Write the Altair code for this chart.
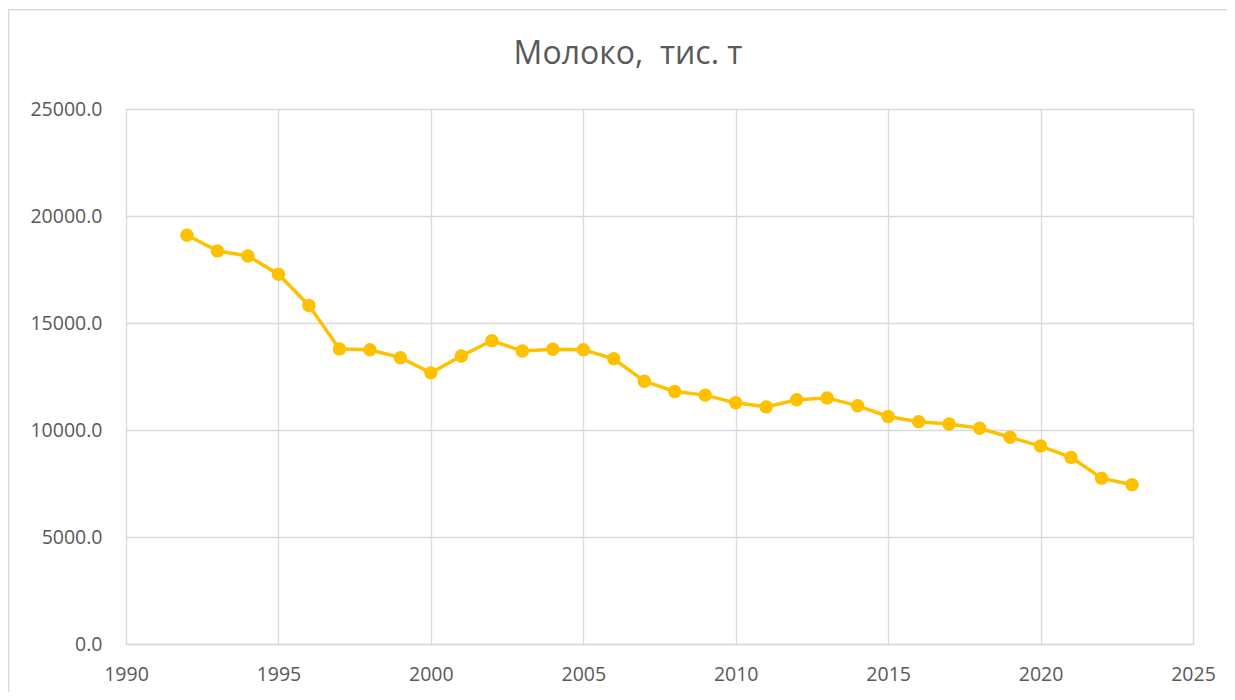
import altair as alt
import pandas as pd

years = list(range(1992, 2024))
milk = [19100, 18370, 18130, 17280, 15820, 13790, 13750, 13380, 12670, 13460,
        14170, 13690, 13770, 13750, 13330, 12280, 11800, 11630, 11270, 11080,
        11410, 11500, 11130, 10630, 10390, 10280, 10080, 9660, 9250, 8720,
        7750, 7440]

x_ticks = [1990, 1995, 2000, 2005, 2010, 2015, 2020, 2025]
y_ticks = [0, 5000, 10000, 15000, 20000, 25000]
title_text = "Молоко,\u00a0 тис. т"

df = pd.DataFrame({"year": years, "value": milk})
tdf = pd.DataFrame({"t": [title_text]})

FONT = "Open Sans"
GRAY = "#595959"
GRID = "#D9D9D9"
GOLD = "#FFC000"

x = alt.X("year:Q", scale=alt.Scale(domain=[1990, 2025], nice=False, zero=False),
          axis=alt.Axis(values=x_ticks, format="d", title=None, ticks=False,
                        labelPadding=21, labelFontSize=19.5, labelColor=GRAY,
                        labelFont=FONT, grid=True, gridColor=GRID, gridWidth=1.3,
                        domain=True, domainColor=GRID, domainWidth=1.5,
                        labelFlush=False, labelOverlap=False))
y = alt.Y("value:Q", scale=alt.Scale(domain=[0, 25000], nice=False),
          axis=alt.Axis(values=y_ticks, format=".1f", title=None, ticks=False,
                        labelPadding=24, labelFontSize=19.5, labelColor=GRAY,
                        labelFont=FONT, grid=True, gridColor=GRID, gridWidth=1.3,
                        domain=False, labelFlush=False, labelOverlap=False))

base = alt.Chart(df)
line = base.mark_line(color=GOLD, strokeWidth=3.5).encode(x=x, y=y)
pts = base.mark_circle(color=GOLD, opacity=1, size=180).encode(x=x, y=y)

frame_left = alt.Chart(tdf).mark_rule(color=GRID, strokeWidth=1.6).encode(
    x=alt.value(-117.5), y=alt.value(-100), y2=alt.value(640))
frame_top = alt.Chart(tdf).mark_rule(color=GRID, strokeWidth=1.6).encode(
    x=alt.value(-118), x2=alt.value(1120), y=alt.value(-99.2))

title = alt.Chart(tdf).mark_text(
    font=FONT, fontSize=32, color=GRAY, align="center", baseline="alphabetic"
).encode(text="t:N", x=alt.value(502), y=alt.value(-45))

chart = alt.layer(frame_left, frame_top, line, pts, title).properties(
    width=1067, height=535,
    autosize=alt.AutoSizeParams(type="none"),
    padding={"left": 118, "top": 101, "right": 34, "bottom": 48},
).configure_view(stroke=None).configure(background="white")

chart.save("out.html", embed_options={"renderer": "svg", "actions": False})
